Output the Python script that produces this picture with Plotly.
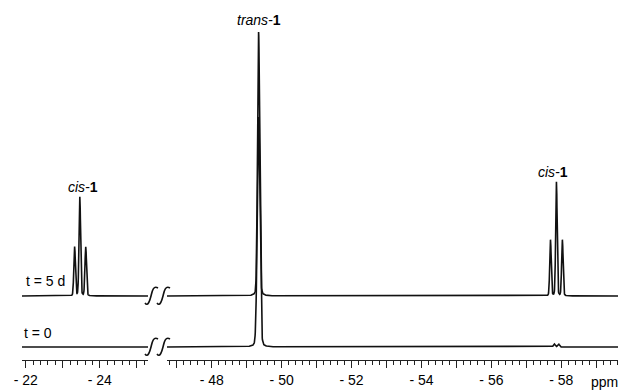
import numpy as np
import plotly.graph_objects as go

# page body has an 8px default margin; the figure is shifted by it
OFF = 8
W, H = 626 - OFF, 392 - OFF

# ---- data ----
# peak lists: position (ppm), height (arb. units), FWHM (ppm)
left_range = [-21.9, -25.3]
right_range = [-46.72, -59.65]

t5_left_pos = [-23.32, -23.46, -23.62]
t5_left_h = [49, 99, 49]
t5_left_w = [0.05, 0.05, 0.05]

t5_right_pos = [-49.34, -57.69, -57.86, -58.03]
t5_right_h = [264, 56, 114, 56]
t5_right_w = [0.07, 0.05, 0.05, 0.05]

t0_left_pos = []
t0_left_h = []
t0_left_w = []

t0_right_pos = [-49.34, -57.80, -57.92]
t0_right_h = [230, 3, 3]
t0_right_w = [0.09, 0.06, 0.06]

offset_t0 = 13
offset_t5 = 64

left_tickvals = [-22, -23, -24, -25]
left_ticktext = ["- 22", "", "- 24", ""]
right_tickvals = [-47, -48, -49, -50, -51, -52, -53, -54, -55, -56, -57, -58, -59]
right_ticktext = ["", "- 48", "", "- 50", "", "- 52", "", "- 54", "", "- 56", "", "- 58", ""]

LORENTZ_FRACTION = 0.12


def spectrum(rng, pos, hts, wds, base):
    x = np.arange(rng[0], rng[1] - 0.0025, -0.005)
    y = np.full_like(x, float(base))
    for p, h, w in zip(pos, hts, wds):
        d = (x - p) / (w / 2)
        lor = 1 / (1 + d ** 2)
        gau = np.exp(-np.log(2) * d ** 2)
        y += h * (LORENTZ_FRACTION * lor + (1 - LORENTZ_FRACTION) * gau)
    return x, y


def fx(px):
    return (px - OFF) / W


def fy(py):
    return 1 - (py - OFF) / H


LINE = dict(color="#111111", width=1.6)
fig = go.Figure()
for (rng, pos, hts, wds, base, xa) in [
    (left_range, t0_left_pos, t0_left_h, t0_left_w, offset_t0, "x"),
    (left_range, t5_left_pos, t5_left_h, t5_left_w, offset_t5, "x"),
    (right_range, t0_right_pos, t0_right_h, t0_right_w, offset_t0, "x2"),
    (right_range, t5_right_pos, t5_right_h, t5_right_w, offset_t5, "x2"),
]:
    x, y = spectrum(rng, pos, hts, wds, base)
    fig.add_trace(go.Scatter(x=x, y=y, mode="lines", line=LINE, xaxis=xa, yaxis="y",
                             showlegend=False, hoverinfo="skip"))

axis_common = dict(
    showline=True, linecolor="#222", linewidth=1, ticks="outside", ticklen=7,
    tickcolor="#222", tickwidth=1, showgrid=False, zeroline=False, tickmode="array",
    tickfont=dict(family="Liberation Sans, Arial", size=14, color="#000"),
    minor=dict(dtick=0.2, tick0=0, ticklen=4, tickcolor="#222", tickwidth=1, showgrid=False),
    anchor="y", automargin=False,
)

fig.update_layout(
    width=W, height=H, margin=dict(l=0, r=0, t=0, b=0),
    paper_bgcolor="white", plot_bgcolor="white",
    xaxis=dict(domain=[fx(22), fx(148)], range=left_range, tickvals=left_tickvals,
               ticktext=left_ticktext, **axis_common),
    xaxis2=dict(domain=[fx(167), fx(619)], range=right_range, tickvals=right_tickvals,
                ticktext=right_ticktext, **axis_common),
    yaxis=dict(domain=[fy(360), 1], range=[0, 360 - OFF], visible=False, fixedrange=True),
)


def P(px, py):
    return f"{fx(px):.5f},{fy(py):.5f}"


# axis-break squiggles
for yb in (296, 347):
    for xb in (151, 163):
        path = (f"M {P(xb - 6, yb + 7)} C {P(xb - 3, yb + 11)} {P(xb - 1, yb + 4)} {P(xb, yb)} "
                f"S {P(xb + 2, yb - 11)} {P(xb + 7, yb - 8)}")
        fig.add_shape(type="path", path=path, xref="paper", yref="paper",
                      line=dict(color="#111111", width=1.6))

FONT = dict(family="Liberation Sans, Arial", size=14, color="#000")
ann = [
    (259, 20, "<i>trans</i>-<b>1</b>"),
    (83, 187, "<i>cis</i>-<b>1</b>"),
    (553, 172, "<i>cis</i>-<b>1</b>"),
    (45, 281, "t = 5 d"),
    (38, 333, "t = 0"),
    (604, 382, "ppm"),
]
for px, py, txt in ann:
    fig.add_annotation(x=fx(px), y=fy(py), xref="paper", yref="paper", text=txt,
                       showarrow=False, font=FONT, xanchor="center", yanchor="middle")

fig.write_html("out.html")
